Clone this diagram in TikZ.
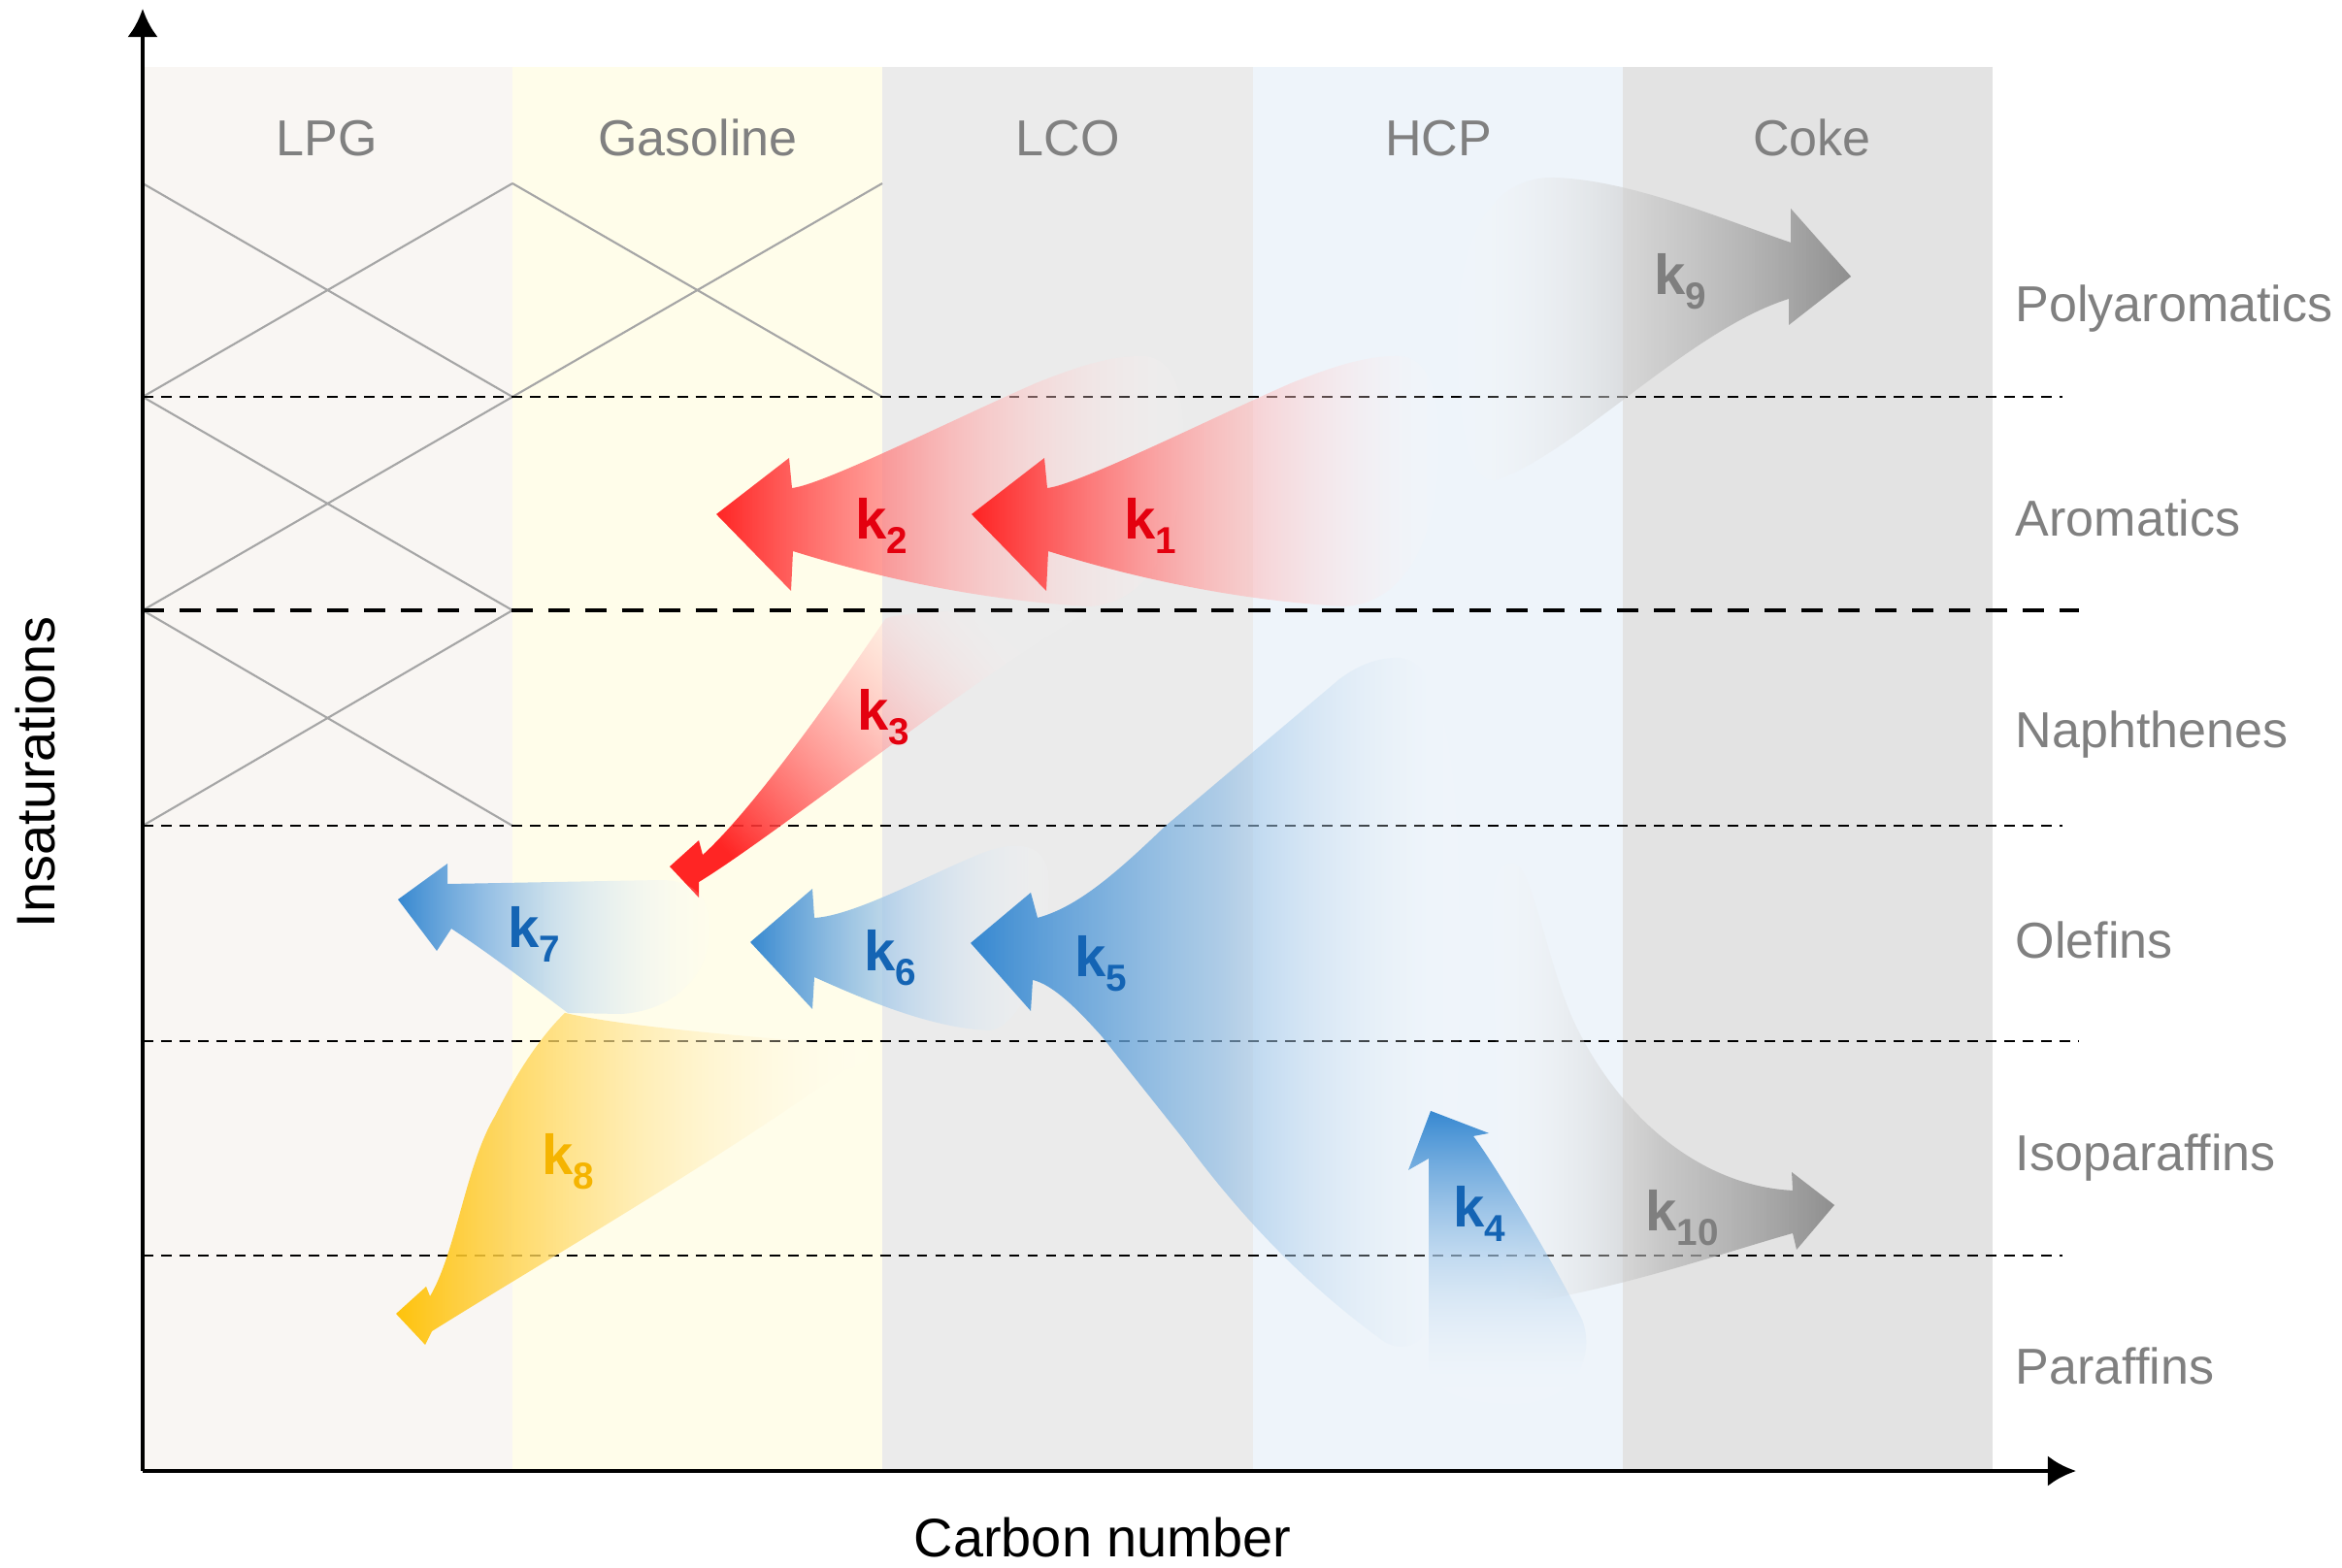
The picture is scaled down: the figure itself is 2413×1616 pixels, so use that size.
\documentclass[tikz,border=0pt]{standalone}
\usepackage{fontspec}
\setmainfont{Liberation Sans}
\usetikzlibrary{arrows.meta,fadings}
\definecolor{bandLPG}{HTML}{F9F6F3}
\definecolor{bandGas}{HTML}{FFFDEA}
\definecolor{bandLCO}{HTML}{EBEBEB}
\definecolor{bandHCP}{HTML}{EEF4FA}
\definecolor{bandCoke}{HTML}{E3E3E3}
\definecolor{lbl}{HTML}{808080}
\definecolor{kred}{HTML}{FF1A1A}
\definecolor{kredtxt}{HTML}{E4000F}
\definecolor{kblue}{HTML}{2D83CF}
\definecolor{kbluetxt}{HTML}{1464B4}
\definecolor{kgold}{HTML}{FFC000}
\definecolor{kgoldtxt}{HTML}{F5B400}
\definecolor{kgrey}{HTML}{8A8A8A}
\definecolor{kgreytxt}{HTML}{7F7F7F}
\tikzfading[name=fadeR, left color=transparent!5, right color=transparent!92, middle color=transparent!35]
\tikzfading[name=fadeL, left color=transparent!92, right color=transparent!5, middle color=transparent!35]
\tikzfading[name=fadeD, top color=transparent!5, bottom color=transparent!92, middle color=transparent!35]
\newcommand\klab[1]{k\raisebox{-0.26em}{\fontsize{11}{11}\selectfont #1}}
\begin{document}
\begin{tikzpicture}[x=0.01cm,y=-0.01cm,
  gridline/.style={draw=black!35, line width=0.6pt},
  thindash/.style={line width=0.7pt, dash pattern=on 3.1pt off 2.3pt},
  thickdash/.style={line width=1.4pt, dash pattern=on 6.3pt off 4.5pt},
  ktext/.style={font=\fontsize{16.5}{16.5}\selectfont\bfseries, inner sep=0pt},
  collbl/.style={font=\fontsize{14.8}{15}\selectfont, text=lbl, inner sep=0pt, anchor=base},
  rowlbl/.style={font=\fontsize{14.8}{15}\selectfont, text=lbl, inner sep=0pt, anchor=base west},
  axislbl/.style={font=\fontsize{15.9}{16}\selectfont, inner sep=0pt, anchor=base},
  axisline/.style={line width=1.4pt, -{Latex[length=8.3pt,width=9pt]}}
]
\useasboundingbox (0,0) rectangle (2413,1616);
% bands
\fill[bandLPG] (147,69) rectangle (528,1516);
\fill[bandGas] (528,69) rectangle (909,1516);
\fill[bandLCO] (909,69) rectangle (1291,1516);
\fill[bandHCP] (1291,69) rectangle (1672,1516);
\fill[bandCoke] (1672,69) rectangle (2053,1516);
% crossing lines
\draw[gridline] (147,189) -- (528,409);
\draw[gridline] (147,409) -- (528,189);
\draw[gridline] (528,189) -- (909,409);
\draw[gridline] (528,409) -- (909,189);
\draw[gridline] (147,409) -- (528,629);
\draw[gridline] (147,629) -- (528,409);
\draw[gridline] (147,629) -- (528,851);
\draw[gridline] (147,851) -- (528,629);
% dashed separators
\draw[thindash] (147,409) -- (2125,409);
\draw[thickdash] (147,629) -- (2142,629);
\draw[thindash] (147,851) -- (2125,851);
\draw[thindash] (147,1073) -- (2142,1073);
\draw[thindash] (147,1294) -- (2125,1294);
% ---- arrows ----
% k3
\shade[bottom color=kred, top color=white, middle color=kred!45, shading angle=-51,
       path fading=fadeR, fading angle=39]
 (690,893) -- (720,866) -- (724,881)
 .. controls (780,830) and (870,700) .. (912,638)
 .. controls (925,628) and (1090,626) .. (1118,632)
 .. controls (1000,700) and (800,860) .. (720,909)
 -- (720,925) -- cycle;
% k2
\begin{scope}[shift={(-263,0)}]
\shade[left color=kred, right color=white, middle color=kred!40, path fading=fadeR]
 (1001,530) -- (1076,472) -- (1079,503)
 .. controls (1110,500) and (1250,430) .. (1330,395)
 .. controls (1380,375) and (1410,367) .. (1440,367)
 .. controls (1475,368) and (1484,410) .. (1482,470)
 .. controls (1480,560) and (1445,622) .. (1385,625)
 .. controls (1260,618) and (1150,590) .. (1080,568)
 -- (1078,609) -- cycle;
\end{scope}
% k1
\shade[left color=kred, right color=white, middle color=kred!40, path fading=fadeR]
 (1001,530) -- (1076,472) -- (1079,503)
 .. controls (1110,500) and (1250,430) .. (1330,395)
 .. controls (1380,375) and (1410,367) .. (1440,367)
 .. controls (1475,368) and (1484,410) .. (1482,470)
 .. controls (1480,560) and (1445,622) .. (1385,625)
 .. controls (1260,618) and (1150,590) .. (1080,568)
 -- (1078,609) -- cycle;
% k9
\shade[left color=white, right color=kgrey, middle color=kgrey!50, path fading=fadeL]
 (1907,285) -- (1843,335) -- (1843,308)
 .. controls (1740,340) and (1620,470) .. (1540,495)
 .. controls (1510,497) and (1500,420) .. (1502,330)
 .. controls (1505,240) and (1540,182) .. (1600,183)
 .. controls (1680,185) and (1780,228) .. (1845,250)
 -- (1845,215) -- cycle;
% k8
\shade[left color=kgold, right color=white, middle color=kgold!40, path fading=fadeR]
 (408,1354) -- (439,1326) -- (443,1336)
 .. controls (470,1290) and (480,1200) .. (510,1150)
 .. controls (530,1110) and (555,1070) .. (582,1044)
 .. controls (650,1060) and (800,1070) .. (880,1078)
 .. controls (905,1082) and (895,1098) .. (870,1102)
 .. controls (750,1190) and (560,1300) .. (445,1372)
 -- (438,1386) -- cycle;
% k7
\shade[left color=kblue, right color=white, middle color=kblue!35, path fading=fadeR]
 (410,927) -- (461,890) -- (461,911)
 -- (680,907)
 .. controls (720,907) and (735,930) .. (730,970)
 .. controls (725,1010) and (690,1042) .. (640,1045)
 -- (585,1044)
 .. controls (540,1010) and (500,980) .. (465,957)
 -- (450,980) -- cycle;
% k6
\shade[left color=kblue, right color=white, middle color=kblue!40, path fading=fadeR]
 (773,971) -- (837,916) -- (839,946)
 .. controls (880,944) and (960,900) .. (1010,880)
 .. controls (1040,868) and (1075,865) .. (1080,900)
 .. controls (1085,960) and (1060,1055) .. (1020,1062)
 .. controls (960,1060) and (890,1030) .. (839,1007)
 -- (837,1040) -- cycle;
% k10
\shade[left color=white, right color=kgrey, middle color=kgrey!60, path fading=fadeL]
 (1890,1242) -- (1851,1288) -- (1847,1271)
 .. controls (1780,1290) and (1700,1318) .. (1600,1338)
 .. controls (1565,1344) and (1548,1330) .. (1546,1290)
 -- (1538,960)
 .. controls (1536,900) and (1545,888) .. (1560,890)
 .. controls (1580,895) and (1595,1000) .. (1625,1060)
 .. controls (1670,1150) and (1750,1222) .. (1847,1227)
 -- (1846,1208) -- cycle;
% k5
\shade[left color=kblue, right color=white, middle color=kblue!55, path fading=fadeR]
 (1000,972) -- (1062,920) -- (1069,946)
 .. controls (1110,935) and (1150,900) .. (1200,852)
 -- (1380,700)
 .. controls (1400,685) and (1420,678) .. (1440,678)
 .. controls (1480,678) and (1500,760) .. (1503,900)
 .. controls (1507,1100) and (1500,1300) .. (1470,1370)
 .. controls (1460,1390) and (1440,1392) .. (1425,1382)
 .. controls (1360,1335) and (1290,1270) .. (1220,1175)
 -- (1135,1068)
 .. controls (1110,1040) and (1085,1015) .. (1064,1010)
 -- (1062,1042) -- cycle;
% k4
\shade[top color=kblue, bottom color=white, middle color=kblue!40, path fading=fadeD]
 (1474,1145) -- (1534,1168) -- (1518,1171)
 .. controls (1540,1200) and (1600,1300) .. (1630,1360)
 .. controls (1645,1400) and (1620,1447) .. (1560,1447)
 .. controls (1520,1447) and (1480,1440) .. (1472,1410)
 -- (1472,1194) -- (1451,1206) -- cycle;
% rate labels
\node[ktext, text=kredtxt] (k1) at (1185,542) {\klab{1}};
\node[ktext, text=kredtxt] (k2) at (908,542) {\klab{2}};
\node[ktext, text=kredtxt] (k3) at (910,739) {\klab{3}};
\node[ktext, text=kbluetxt] (k4) at (1524,1251) {\klab{4}};
\node[ktext, text=kbluetxt] (k5) at (1134,993) {\klab{5}};
\node[ktext, text=kbluetxt] (k6) at (917,987) {\klab{6}};
\node[ktext, text=kbluetxt] (k7) at (550,963) {\klab{7}};
\node[ktext, text=kgoldtxt] (k8) at (585,1197) {\klab{8}};
\node[ktext, text=kgreytxt] (k9) at (1731,290) {\klab{9}};
\node[ktext, text=kgreytxt] (k10) at (1733,1255) {\klab{10}};
% column labels
\node[collbl] (lpg) at (337,161) {LPG};
\node[collbl] (gas) at (719,161) {Gasoline};
\node[collbl] (lco) at (1100,161) {LCO};
\node[collbl] (hcp) at (1482,161) {HCP};
\node[collbl] (coke) at (1867,161) {Coke};
% row labels
\node[rowlbl] (rpoly) at (2076,332) {Polyaromatics};
\node[rowlbl] (rarom) at (2076,553) {Aromatics};
\node[rowlbl] (rnaph) at (2076,770) {Naphthenes};
\node[rowlbl] (rolef) at (2076,987) {Olefins};
\node[rowlbl] (riso) at (2076,1206) {Isoparaffins};
\node[rowlbl] (rpar) at (2076,1426) {Paraffins};
% axes
\coordinate (O) at (147,1516);
\coordinate (ytop) at (147,9);
\coordinate (xend) at (2139,1516);
\draw[axisline] (O) -- (ytop);
\draw[axisline] (O) -- (xend);
\node[axislbl] (xlab) at (1136,1604) {Carbon number};
\node[axislbl, rotate=90] (ylab) at (57,796) {Insaturations};
\end{tikzpicture}
\end{document}
